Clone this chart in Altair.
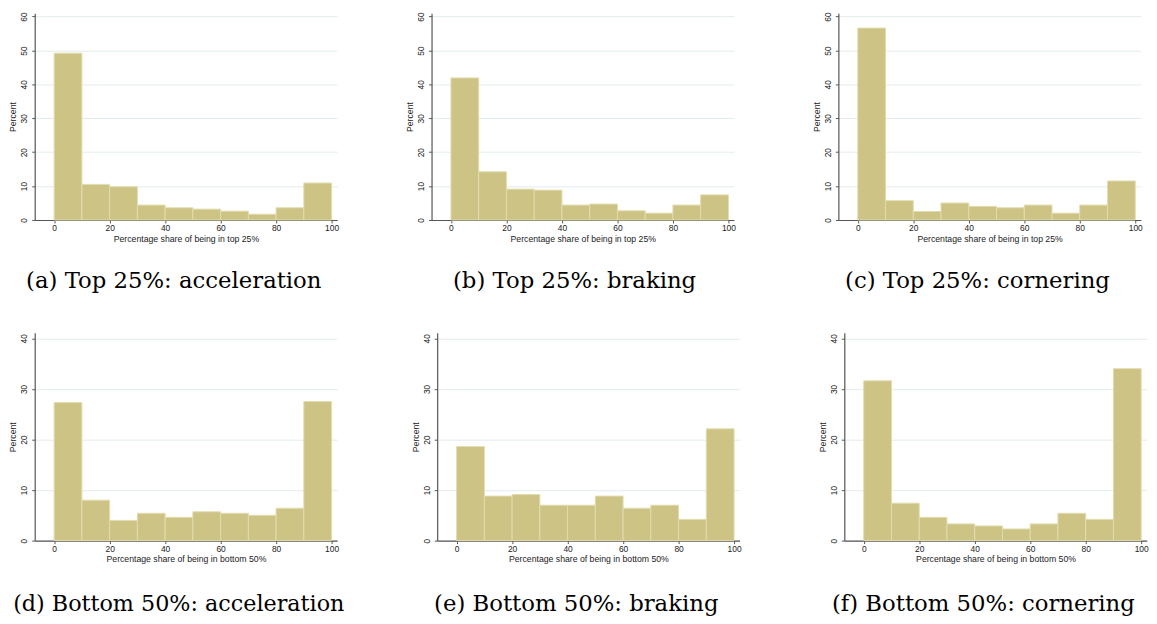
import altair as alt
import pandas as pd

# ---- data ----
bin_start = [0, 10, 20, 30, 40, 50, 60, 70, 80, 90]
bin_width = 10

top_acceleration = [49.2, 10.5, 9.8, 4.4, 3.6, 3.2, 2.6, 1.7, 3.6, 10.9]
top_braking = [41.9, 14.2, 9.1, 8.8, 4.4, 4.7, 2.7, 2.0, 4.4, 7.4]
top_cornering = [56.6, 5.7, 2.5, 5.0, 4.0, 3.6, 4.4, 2.0, 4.4, 11.5]
bottom_acceleration = [27.3, 8.0, 4.0, 5.4, 4.6, 5.7, 5.4, 5.0, 6.4, 27.5]
bottom_braking = [18.6, 8.8, 9.1, 7.0, 7.0, 8.8, 6.4, 7.0, 4.2, 22.1]
bottom_cornering = [31.6, 7.4, 4.6, 3.3, 2.9, 2.3, 3.3, 5.4, 4.2, 34.0]

x_ticks = [0, 20, 40, 60, 80, 100]
top_y_ticks = [0, 10, 20, 30, 40, 50, 60]
bottom_y_ticks = [0, 10, 20, 30, 40]

captions_top = ["(a) Top 25%: acceleration", "(b) Top 25%: braking", "(c) Top 25%: cornering"]
captions_bottom = ["(d) Bottom 50%: acceleration", "(e) Bottom 50%: braking", "(f) Bottom 50%: cornering"]
x_title_top = "Percentage share of being in top 25%"
x_title_bottom = "Percentage share of being in bottom 50%"
y_title = "Percent"

# ---- style ----
FILL = "#CCC384"
EDGE = "#E2DCAE"
SANS = "Liberation Sans"
SERIF = "DejaVu Serif"
PLOT_W = 305.6


def panel(values, caption, xtitle, yticks, ymax, height, dx=0, offset=48, fsize=23):
    df = pd.DataFrame({
        "start": bin_start,
        "end": [s + bin_width for s in bin_start],
        "pct": values,
        "base": [0] * len(values),
    })
    title = alt.TitleParams(
        caption, orient="bottom", anchor="middle", frame="bounds",
        font=SERIF, fontSize=fsize, fontWeight="normal", color="#000000",
        baseline="alphabetic", offset=offset, dx=dx,
    )
    return alt.Chart(df, title=title).mark_rect(
        color=FILL, stroke=EDGE, strokeWidth=1
    ).encode(
        x=alt.X("start:Q",
                scale=alt.Scale(domain=[-7, 102], nice=False, zero=False),
                axis=alt.Axis(values=x_ticks, title=xtitle, grid=False,
                              labelPadding=1, titlePadding=2, format="d")),
        x2="end:Q",
        y=alt.Y("pct:Q",
                scale=alt.Scale(domain=[0, ymax], nice=False),
                axis=alt.Axis(values=yticks, title=y_title, grid=True,
                              labelAngle=270, labelPadding=3, titlePadding=2,
                              format="d")),
        y2="base:Q",
    ).properties(width=PLOT_W, height=height)


a = panel(top_acceleration, captions_top[0], x_title_top, top_y_ticks, 61, 209, offset=45)
b = panel(top_braking, captions_top[1], x_title_top, top_y_ticks, 61, 209, dx=4, offset=45)
c = panel(top_cornering, captions_top[2], x_title_top, top_y_ticks, 61, 209, offset=45)
d = panel(bottom_acceleration, captions_bottom[0], x_title_bottom, bottom_y_ticks, 41.1, 210,
          dx=5, fsize=22.5)
e = panel(bottom_braking, captions_bottom[1], x_title_bottom, bottom_y_ticks, 41.1, 210)
f = panel(bottom_cornering, captions_bottom[2], x_title_bottom, bottom_y_ticks, 41.1, 210)

row1 = alt.hconcat(a, alt.hconcat(b, c, spacing=105.1, bounds="flush"),
                   spacing=95, bounds="flush")
row2 = alt.hconcat(d, alt.hconcat(e, f, spacing=105.4, bounds="flush"),
                   spacing=100.7, bounds="flush")

chart = alt.vconcat(row1, row2, spacing=39).properties(
    padding=0
).configure_view(
    stroke="transparent"
).configure_axis(
    domainColor="#555555", domainWidth=1.2,
    tickColor="#555555", tickSize=3, tickWidth=1,
    labelFont=SANS, labelFontSize=8.5, labelColor="#222222",
    titleFont=SANS, titleFontSize=8.8, titleFontWeight="normal", titleColor="#222222",
    gridColor="#E3ECEE", gridWidth=1,
)

chart.save("out.html", embed_options={"renderer": "svg", "actions": False})
